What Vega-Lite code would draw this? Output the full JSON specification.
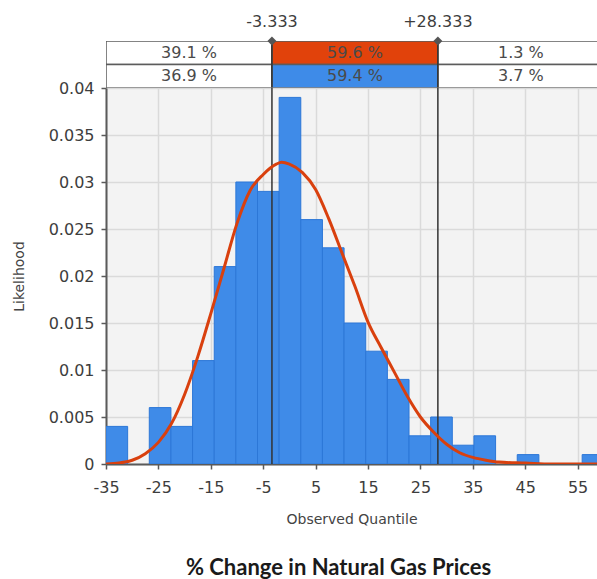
{
  "$schema": "https://vega.github.io/schema/vega-lite/v6.json",
  "background": "white",
  "padding": {"left": 12, "top": 14, "right": 0, "bottom": 6},
  "bounds": "flush",
  "spacing": 0,
  "title": {
    "text": "% Change in Natural Gas Prices",
    "orient": "bottom",
    "anchor": "middle",
    "dx": 34,
    "offset": 32,
    "font": "Lato",
    "fontSize": 22,
    "fontWeight": "bold",
    "color": "#1a1a1a"
  },
  "config": {
    "font": "DejaVu Sans",
    "view": {"stroke": null}
  },
  "datasets": {
    "bands": [
      {"row": "Fitted", "seg": "left", "from": -35, "to": -3.333, "pct": "39.1 %"},
      {"row": "Fitted", "seg": "mid", "from": -3.333, "to": 28.333, "pct": "59.6 %"},
      {"row": "Fitted", "seg": "right", "from": 28.333, "to": 60, "pct": "1.3 %"},
      {"row": "Input", "seg": "left", "from": -35, "to": -3.333, "pct": "36.9 %"},
      {"row": "Input", "seg": "mid", "from": -3.333, "to": 28.333, "pct": "59.4 %"},
      {"row": "Input", "seg": "right", "from": 28.333, "to": 60, "pct": "3.7 %"}
    ],
    "cuts": [
      {"cut": -3.333, "lab": "-3.333"},
      {"cut": 28.333, "lab": "+28.333"}
    ],
    "bins": [
      {"lo": -35, "hi": -30.87, "density": 0.004},
      {"lo": -30.87, "hi": -26.739, "density": 0},
      {"lo": -26.739, "hi": -22.609, "density": 0.006},
      {"lo": -22.609, "hi": -18.478, "density": 0.004},
      {"lo": -18.478, "hi": -14.348, "density": 0.011},
      {"lo": -14.348, "hi": -10.217, "density": 0.021},
      {"lo": -10.217, "hi": -6.087, "density": 0.03},
      {"lo": -6.087, "hi": -1.957, "density": 0.029},
      {"lo": -1.957, "hi": 2.174, "density": 0.039},
      {"lo": 2.174, "hi": 6.304, "density": 0.026},
      {"lo": 6.304, "hi": 10.435, "density": 0.023},
      {"lo": 10.435, "hi": 14.565, "density": 0.015},
      {"lo": 14.565, "hi": 18.696, "density": 0.012},
      {"lo": 18.696, "hi": 22.826, "density": 0.009},
      {"lo": 22.826, "hi": 26.957, "density": 0.003},
      {"lo": 26.957, "hi": 31.087, "density": 0.005},
      {"lo": 31.087, "hi": 35.217, "density": 0.002},
      {"lo": 35.217, "hi": 39.348, "density": 0.003},
      {"lo": 39.348, "hi": 43.478, "density": 0},
      {"lo": 43.478, "hi": 47.609, "density": 0.001},
      {"lo": 47.609, "hi": 51.739, "density": 0},
      {"lo": 51.739, "hi": 55.87, "density": 0},
      {"lo": 55.87, "hi": 60, "density": 0.001}
    ],
    "fit": [
      {"q": -35, "pdf": 0},
      {"q": -32.5, "pdf": 0.0001},
      {"q": -30, "pdf": 0.0004},
      {"q": -27.5, "pdf": 0.0011},
      {"q": -25, "pdf": 0.0023},
      {"q": -22.5, "pdf": 0.0043},
      {"q": -20, "pdf": 0.0074},
      {"q": -17.5, "pdf": 0.0114},
      {"q": -15, "pdf": 0.016},
      {"q": -12.5, "pdf": 0.0208},
      {"q": -10, "pdf": 0.0256},
      {"q": -7.5, "pdf": 0.0291},
      {"q": -5, "pdf": 0.0308},
      {"q": -2.5, "pdf": 0.0319},
      {"q": -1.5, "pdf": 0.0321},
      {"q": 0, "pdf": 0.0319},
      {"q": 2.5, "pdf": 0.031},
      {"q": 5, "pdf": 0.0292},
      {"q": 7.5, "pdf": 0.0261},
      {"q": 10, "pdf": 0.0225},
      {"q": 12.5, "pdf": 0.0189},
      {"q": 15, "pdf": 0.0151},
      {"q": 17.5, "pdf": 0.0124},
      {"q": 20, "pdf": 0.0098},
      {"q": 22.5, "pdf": 0.0072},
      {"q": 25, "pdf": 0.005},
      {"q": 27.5, "pdf": 0.0034},
      {"q": 30, "pdf": 0.0021},
      {"q": 32.5, "pdf": 0.0012},
      {"q": 35, "pdf": 0.0007},
      {"q": 37.5, "pdf": 0.0004},
      {"q": 40, "pdf": 0.0002},
      {"q": 45, "pdf": 0.0001},
      {"q": 50, "pdf": 0},
      {"q": 60, "pdf": 0}
    ]
  },
  "vconcat": [
    {
      "width": 491,
      "height": 47,
      "view": {"fill": "white", "stroke": null},
      "layer": [
        {
          "data": {"name": "bands"},
          "mark": {"type": "rect", "stroke": "#5c5c5c", "strokeWidth": 1.5, "clip": true},
          "encoding": {
            "x": {"field": "from", "type": "quantitative", "scale": {"domain": [-35, 58.7], "nice": false, "zero": false}, "axis": null},
            "x2": {"field": "to"},
            "y": {"field": "row", "type": "nominal", "scale": {"type": "band", "domain": ["Fitted", "Input"], "paddingInner": 0, "paddingOuter": 0}, "axis": null},
            "fill": {
              "condition": [
                {"test": "datum.seg === 'mid' && datum.row === 'Fitted'", "value": "#E1420B"},
                {"test": "datum.seg === 'mid'", "value": "#3E8BE8"}
              ],
              "value": "white"
            }
          }
        },
        {
          "data": {"name": "bands"},
          "transform": [{"calculate": "(datum.from + datum.to) / 2", "as": "mid"}],
          "mark": {"type": "text", "fontSize": 16, "color": "#4a4a4a"},
          "encoding": {
            "x": {"field": "mid", "type": "quantitative"},
            "y": {"field": "row", "type": "nominal"},
            "text": {"field": "pct"}
          }
        },
        {
          "data": {"name": "cuts"},
          "mark": {"type": "rule", "color": "#333333", "strokeWidth": 1.5},
          "encoding": {"x": {"field": "cut", "type": "quantitative"}}
        },
        {
          "data": {"name": "cuts"},
          "mark": {"type": "point", "shape": "diamond", "filled": true, "color": "#555555", "size": 80, "opacity": 1},
          "encoding": {
            "x": {"field": "cut", "type": "quantitative"},
            "y": {"datum": "Fitted", "type": "nominal", "bandPosition": 0}
          }
        },
        {
          "data": {"name": "cuts"},
          "mark": {"type": "text", "fontSize": 16, "color": "#3d3d3d", "baseline": "alphabetic", "dy": -14},
          "encoding": {
            "x": {"field": "cut", "type": "quantitative"},
            "y": {"datum": "Fitted", "type": "nominal", "bandPosition": 0},
            "text": {"field": "lab"}
          }
        }
      ]
    },
    {
      "width": 491,
      "height": 376,
      "view": {"fill": "#F3F3F3", "stroke": null},
      "layer": [
        {
          "data": {"name": "bins"},
          "mark": {"type": "rect", "fill": "#3F8BE8", "stroke": "#2C77D7", "strokeWidth": 1, "clip": true},
          "encoding": {
            "x": {
              "field": "lo", "type": "quantitative",
              "scale": {"domain": [-35, 58.7], "nice": false, "zero": false},
              "axis": {
                "title": "Observed Quantile",
                "values": [-35, -25, -15, -5, 5, 15, 25, 35, 45, 55],
                "labelExpr": "'' + datum.value",
                "labelFlush": false,
                "grid": true, "gridColor": "#DADADA", "gridWidth": 1.5,
                "domainColor": "#5a5a5a", "domainWidth": 2,
                "tickColor": "#5a5a5a", "tickSize": 5, "tickWidth": 1.5,
                "labelFontSize": 16, "labelColor": "#3d3d3d", "labelPadding": 10,
                "titleFontSize": 14, "titleFontWeight": "normal", "titleColor": "#444444", "titlePadding": 17
              }
            },
            "x2": {"field": "hi"},
            "y": {
              "field": "density", "type": "quantitative",
              "scale": {"domain": [0, 0.04], "nice": false},
              "axis": {
                "title": "Likelihood",
                "values": [0, 0.005, 0.01, 0.015, 0.02, 0.025, 0.03, 0.035, 0.04],
                "labelExpr": "'' + datum.value",
                "grid": true, "gridColor": "#DADADA", "gridWidth": 1.5,
                "domainColor": "#5a5a5a", "domainWidth": 2,
                "tickColor": "#5a5a5a", "tickSize": 5, "tickWidth": 1.5,
                "labelFontSize": 16, "labelColor": "#3d3d3d", "labelPadding": 7,
                "minExtent": 68, "maxExtent": 68,
                "titleFontSize": 14, "titleFontWeight": "normal", "titleColor": "#444444", "titlePadding": 12
              }
            },
            "y2": {"datum": 0},
            "strokeOpacity": {"condition": {"test": "datum.density > 0", "value": 1}, "value": 0}
          }
        },
        {
          "data": {"name": "cuts"},
          "mark": {"type": "rule", "color": "#333333", "strokeWidth": 1.5},
          "encoding": {"x": {"field": "cut", "type": "quantitative"}}
        },
        {
          "data": {"name": "fit"},
          "mark": {"type": "line", "color": "#D9400E", "strokeWidth": 3, "interpolate": "monotone", "clip": true},
          "encoding": {
            "x": {"field": "q", "type": "quantitative"},
            "y": {"field": "pdf", "type": "quantitative"}
          }
        }
      ]
    }
  ]
}
